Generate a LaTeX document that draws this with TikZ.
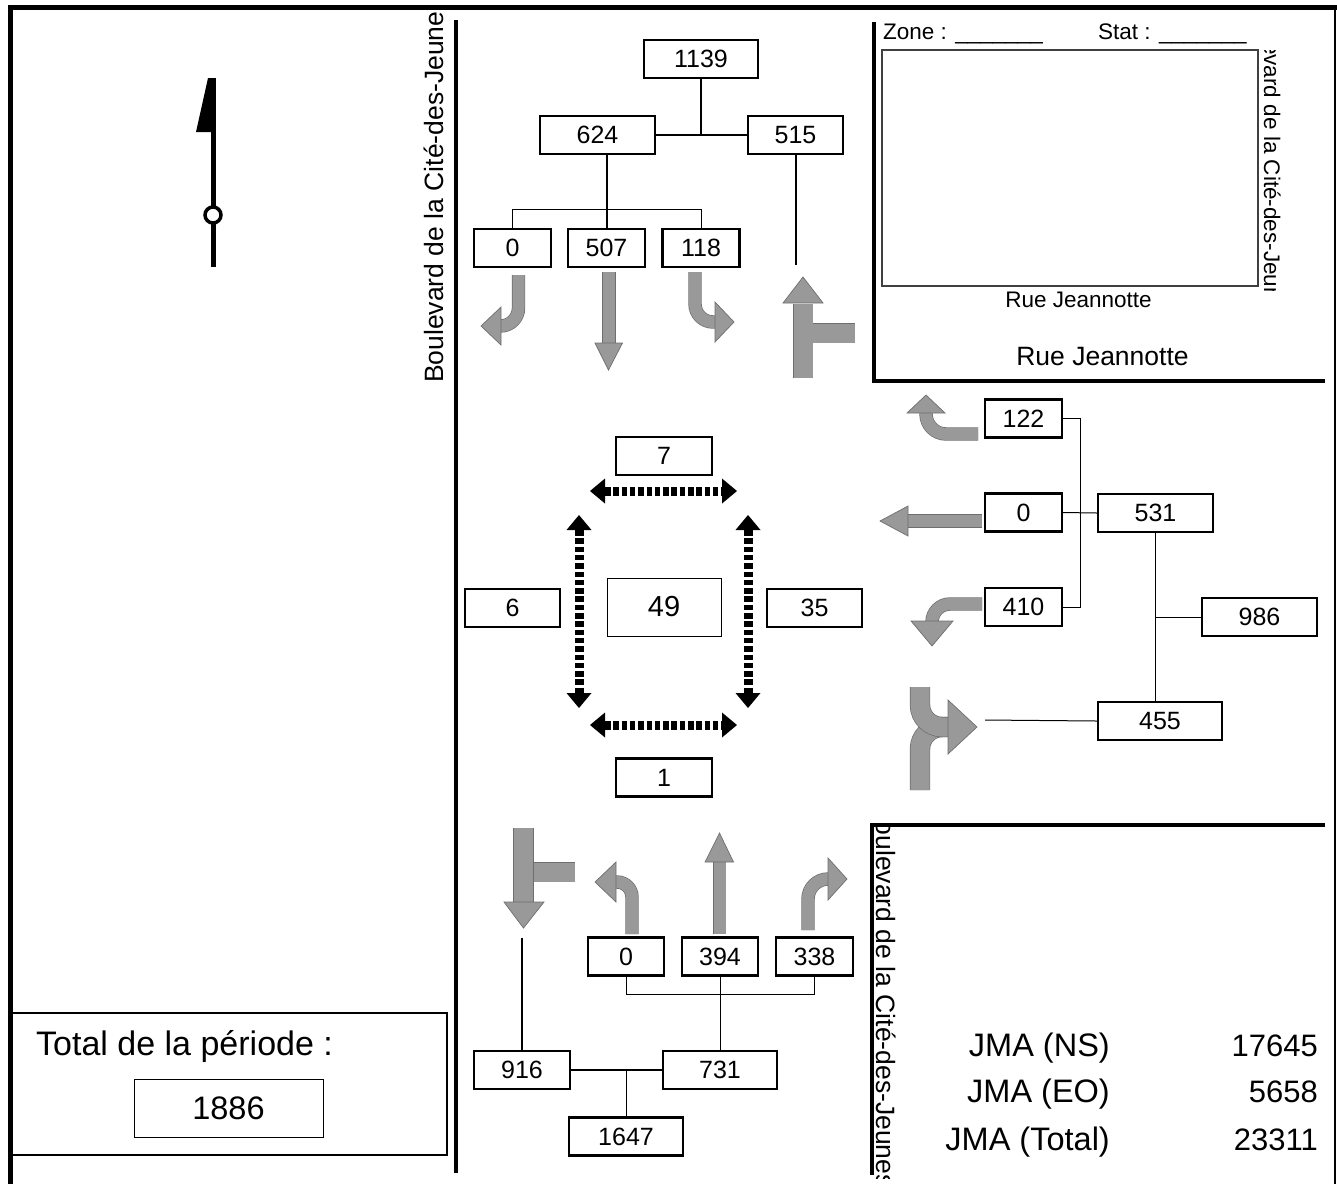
\documentclass[tikz,border=0pt]{standalone}
\usepackage{fontspec}
\setmainfont{Liberation Sans}
\usetikzlibrary{arrows.meta}
\definecolor{lanefill}{RGB}{153,153,153}
\definecolor{laneedge}{RGB}{110,110,110}
\begin{document}
\begin{tikzpicture}[x=1pt,y=1pt,%
% common options for the count boxes:
count/.style = {draw, line width=2.2pt, fill=white, align=center,
            minimum width=77pt, minimum height=38pt, inner sep=0,
            font=\fontsize{25}{29}\selectfont},
% common options for the tree lines:
trunk/.style = {line width=2pt},
twig/.style = {line width=1pt},
% common options for the gray movement arrows:
lane/.style = {draw=laneedge, line width=0.7pt, double=lanefill, double distance=12pt},
widelane/.style = {lane, double distance=19pt},
head/.style = {fill=lanefill, draw=laneedge, line width=0.7pt},
% pedestrian crossings:
ped/.style = {line width=9pt, dash pattern=on 5.5pt off 2.8pt,
            {Triangle[length=15pt,width=25pt,line width=0pt]}-{Triangle[length=15pt,width=25pt,line width=0pt]}},
% texts and walls:
street/.style = {inner sep=0, font=\fontsize{26.5}{30}\selectfont},
small/.style = {inner sep=0, font=\fontsize{22.5}{26}\selectfont},
jma/.style = {inner sep=0, font=\fontsize{32.5}{37}\selectfont},
wall/.style = {line width=4pt}]
\useasboundingbox (0,0) rectangle (1337,-1184);

% north arrow
\draw[line width=5pt] (213,-78) -- (213,-267);
\fill (208,-78) -- (215.5,-78) -- (215.5,-132) -- (196,-132) -- cycle;
\draw[line width=3.5pt, fill=white] (213,-215) circle (8pt);

% north leg
\node[count, minimum width=114pt] (N0) at (701,-59) {1139};
\node[count, minimum width=115pt] (N1) at (597.5,-135) {624};
\node[count, minimum width=95pt] (N2) at (795.5,-135) {515};
\node[count] (N3) at (512.5,-248) {0};
\node[count] (N4) at (606.5,-248) {507};
\node[count] (N5) at (701,-248) {118};
\coordinate (N6) at (795.5,-265);
\draw[trunk] (N0.south) -- (N0.south |- N1.east);
\draw[trunk] (N1.east) -- (N2.west);
\draw[trunk] (N4.north |- N1.south) -- (N4.north);
\draw[twig] (N3.north) -- ++(0,18) -| (N5.north);
\draw[trunk] (N2.south) -- (N6);
\draw[lane] (518.5,-275) -- (518.5,-308) arc[start angle=0, end angle=-90, radius=18pt] -- (499,-326);
\fill[head] (501,-307) -- (481,-326) -- (501,-345) -- cycle;
\draw[lane] (609,-272) -- (609,-344);
\fill[head] (595,-343) -- (622.5,-343) -- (608.5,-370) -- cycle;
\draw[lane] (695,-272) -- (695,-304) arc[start angle=180, end angle=270, radius=18pt] -- (716,-322);
\fill[head] (715,-302) -- (734,-322) -- (715,-342) -- cycle;
\draw[widelane] (855,-333) -- (803,-333);
\draw[widelane] (803,-378) -- (803,-304);
\fill[head] (783,-303) -- (803,-277) -- (823,-303) -- cycle;

% east leg
\node[count] (E0) at (1023.5,-418.5) {122};
\node[count] (E1) at (1023.5,-512.5) {0};
\node[count] (E2) at (1023.5,-607) {410};
\node[count, minimum width=115pt] (E3) at (1155.5,-513) {531};
\node[count, minimum width=115pt] (E4) at (1259.5,-617) {986};
\node[count, minimum width=124pt] (E5) at (1160,-721) {455};
\coordinate (E6) at (985,-720);
\draw[twig] (E0.east) -- ++(17,0) |- (E2.east);
\draw[twig] (E1.east) -- (E3.west);
\draw[twig] (E3.south) -- (E3.south |- E5.north);
\draw[twig] (E3.south |- E4.west) -- (E4.west);
\draw[twig] (E6) -- (E5.west);
\draw[lane] (978,-434) -- (946,-434) arc[start angle=-90, end angle=-180, radius=20pt] -- (926,-412);
\fill[head] (907,-413) -- (926,-395) -- (945,-413) -- cycle;
\draw[lane] (982,-521) -- (907,-521);
\fill[head] (908,-506) -- (880,-521) -- (908,-536) -- cycle;
\draw[lane] (982,-604) -- (950,-604) arc[start angle=90, end angle=180, radius=18pt] -- (932,-623);
\fill[head] (911,-621) -- (932,-646) -- (953,-621) -- cycle;
\draw[widelane] (920,-790) -- (920,-749) arc[start angle=180, end angle=90, radius=22pt] -- (949,-727);
\draw[widelane] (920,-687) -- (920,-705) arc[start angle=180, end angle=270, radius=22pt] -- (949,-727);
\fill[head] (948,-700) -- (977,-727) -- (948,-754) -- cycle;

% south leg
\node[count, minimum width=76pt] (S0) at (626,-956.5) {0};
\node[count, minimum width=76pt] (S1) at (720,-956.5) {394};
\node[count] (S2) at (814.5,-956.5) {338};
\node[count, minimum width=96pt] (S3) at (522,-1070) {916};
\node[count, minimum width=114pt] (S4) at (720,-1070) {731};
\node[count, minimum width=114pt] (S5) at (626,-1136.5) {1647};
\coordinate (S6) at (522,-938);
\draw[twig] (S0.south) -- ++(0,-18) -| (S2.south);
\draw[twig] (S1.south) -- (S4.north);
\draw[trunk] (S3.east) -- (S4.west);
\draw[twig] (S5.north) -- (S5.north |- S3.east);
\draw[trunk] (S6) -- (S3.north);
\draw[widelane] (575,-872) -- (523.5,-872);
\draw[widelane] (523.5,-828) -- (523.5,-903);
\fill[head] (504,-902) -- (544,-902) -- (523.5,-928) -- cycle;
\draw[lane] (632,-934) -- (632,-897) arc[start angle=0, end angle=90, radius=15pt] -- (615,-882);
\fill[head] (616,-862) -- (595,-882) -- (616,-902) -- cycle;
\draw[lane] (719.5,-934) -- (719.5,-861);
\fill[head] (705,-862) -- (733.5,-862) -- (719.5,-833) -- cycle;
\draw[lane] (808,-930) -- (808,-899) arc[start angle=180, end angle=90, radius=20pt] -- (829,-879);
\fill[head] (828,-858) -- (847,-879) -- (828,-900) -- cycle;

% pedestrians
\node[count, minimum width=96pt] (P0) at (664,-456) {7};
\node[count, minimum width=96pt] (P1) at (664,-777.5) {1};
\node[count, minimum width=95pt] (P2) at (512.5,-608) {6};
\node[count, minimum width=95pt] (P3) at (814.5,-608) {35};
\node[count, line width=1pt, minimum width=114pt, minimum height=58pt,
      font=\fontsize{29}{33}\selectfont] (P4) at (664,-607) {49};
\draw[ped] (590,-491) -- (737,-491);
\draw[ped] (590,-725) -- (737,-725);
\draw[ped] (579,-515) -- (579,-708);
\draw[ped] (748,-515) -- (748,-708);

% zone map
\node[anchor=base west, inner sep=0, font=\fontsize{22.5}{26}\selectfont] (Z0) at (883,-39) {Zone : \_\_\_\_\_\_\_};
\node[anchor=base west, inner sep=0, font=\fontsize{22.5}{26}\selectfont] (Z1) at (1098,-39) {Stat : \_\_\_\_\_\_\_};
\draw[line width=1.5pt, draw=black!75] (882,-50) rectangle (1258,-286);
\node[small, anchor=base] (Z2) at (1078.5,-307) {Rue Jeannotte};
\begin{scope}
\clip (1259,-50) rectangle (1296,-290);
\node[small, rotate=-90, anchor=base west] (Z3) at (1264,3) {Boulevard de la Cité-des-Jeunes};
\end{scope}

% street names
\node[street, anchor=base] (R0) at (1102.5,-365) {Rue Jeannotte};
\begin{scope}
\clip (414,-12) rectangle (452,-392);
\node[street, rotate=90, anchor=base west] (R1) at (443,-383) {Boulevard de la Cité-des-Jeunes};
\end{scope}
\begin{scope}
\clip (874,-827) rectangle (912,-1178);
\node[street, rotate=-90, anchor=base west] (R2) at (876,-803) {Boulevard de la Cité-des-Jeunes};
\end{scope}

% totals
\draw[line width=2.2pt] (12,-1013) rectangle (447,-1155);
\node[anchor=base west, inner sep=0, font=\fontsize{34}{39}\selectfont] (T0) at (36,-1055) {Total de la période :};
\node[count, line width=1pt, minimum width=189pt, minimum height=58pt,
      font=\fontsize{32.5}{37}\selectfont] (T1) at (228.5,-1108) {1886};
\node[jma, anchor=base east] (J0) at (1110,-1056) {JMA (NS)};
\node[jma, anchor=base east] (J1) at (1110,-1102) {JMA (EO)};
\node[jma, anchor=base east] (J2) at (1110,-1150) {JMA (Total)};
\node[jma, anchor=base east, font=\fontsize{31}{36}\selectfont] (J3) at (1318,-1056) {17645};
\node[jma, anchor=base east, font=\fontsize{31}{36}\selectfont] (J4) at (1318,-1102) {5658};
\node[jma, anchor=base east, font=\fontsize{31}{36}\selectfont] (J5) at (1318,-1150) {23311};

% frame and walls
\draw[line width=5pt] (8,-7.5) -- (1337,-7.5);
\draw[line width=4.5pt] (10.3,-5) -- (10.3,-1184);
\draw[line width=1.5pt] (1335,-7.5) -- (1335,-1184);
\draw[wall] (455.5,-20) -- (455.5,-1173);
\draw[wall] (873.5,-22) -- (873.5,-381) -- (1325,-381);
\draw[wall] (1325,-825) -- (872,-825) -- (872,-1175);
\end{tikzpicture}
\end{document}
